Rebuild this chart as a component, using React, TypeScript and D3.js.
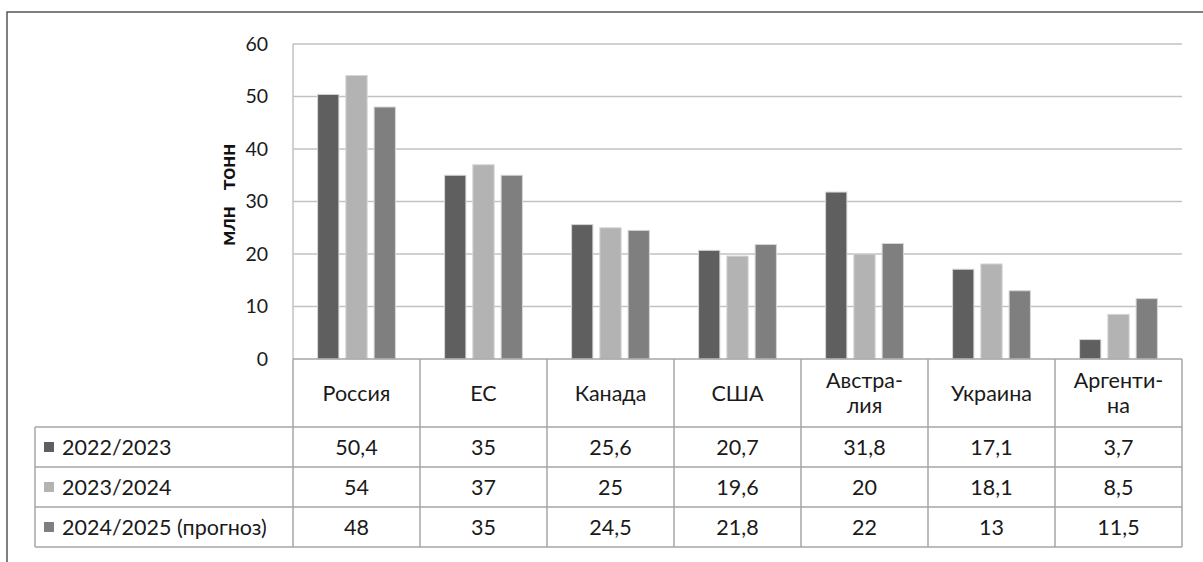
import React from 'react';
import * as d3 from 'd3';

const categories = ['Россия', 'ЕС', 'Канада', 'США', 'Австра-\nлия', 'Украина', 'Аргенти-\nна'];
const seriesNames = ['2022/2023', '2023/2024', '2024/2025 (прогноз)'];
const values2022 = [50.4, 35, 25.6, 20.7, 31.8, 17.1, 3.7];
const values2023 = [54, 37, 25, 19.6, 20, 18.1, 8.5];
const values2024 = [48, 35, 24.5, 21.8, 22, 13, 11.5];
const yTicks = [0, 10, 20, 30, 40, 50, 60];
const colors = ['#5f5f5f', '#b3b3b3', '#7f7f7f'];

const W = 1203;
const H = 562;
const FONT = 'Lato, "Open Sans", sans-serif';

const App: React.FC = () => {
  const series = [values2022, values2023, values2024];
  const plot = { left: 293, right: 1182, top: 44, bottom: 359 };
  const headerBottom = 427;
  const rowH = 40;
  const tableLeft = 35;

  const x = d3.scaleBand<number>().domain(d3.range(categories.length)).range([plot.left, plot.right]);
  const inner = d3.scaleBand<number>().domain([0, 1, 2]).range([0, x.bandwidth()]).paddingInner(0.247).paddingOuter(0.87);
  const y = d3.scaleLinear().domain([0, 60]).range([plot.bottom, plot.top]);

  const fmt = (v: number) => String(v).replace('.', ',');
  const colEdges = d3.range(categories.length + 1).map(i => (i < categories.length ? x(i)! : plot.right));

  return (
    <div style={{ position: 'absolute', left: 0, top: 0 }}>
      <svg width={W} height={H} style={{ display: 'block', background: '#fff' }}>
        {/* frame */}
        <path d={`M7,${H} V12 H${W}`} fill="none" stroke="#555" strokeWidth={1.5} />

        {/* gridlines */}
        {yTicks.slice(1).map(t => (
          <line key={t} x1={plot.left} x2={plot.right} y1={y(t)} y2={y(t)} stroke="#c2c2c2" strokeWidth={1.5} />
        ))}
        <line x1={plot.left} x2={plot.left} y1={plot.top} y2={plot.bottom} stroke="#c2c2c2" strokeWidth={1.5} />

        {/* y ticks */}
        {yTicks.map(t => (
          <text key={t} x={268} y={y(t)} dy="0.35em" textAnchor="end" fontFamily={FONT} fontSize={19.5} fill="#1a1a1a">
            {t}
          </text>
        ))}
        {/* y title, two words placed apart as in the source */}
        <text transform="translate(228,167) rotate(-90)" textAnchor="middle" dy="0.35em" fontFamily={FONT} fontSize={21} fontWeight="bold" fill="#111">
          тонн
        </text>
        <text transform="translate(228,226) rotate(-90)" textAnchor="middle" dy="0.35em" fontFamily={FONT} fontSize={21} fontWeight="bold" fill="#111">
          млн
        </text>

        {/* bars */}
        {categories.map((_, ci) =>
          series.map((vals, si) => (
            <rect
              key={`${ci}-${si}`}
              x={x(ci)! + inner(si)!}
              y={y(vals[ci])}
              width={inner.bandwidth()}
              height={y(0) - y(vals[ci])}
              fill={colors[si]}
              stroke="#d6d6d6"
              strokeWidth={1}
            />
          ))
        )}

        {/* table lines */}
        <g stroke="#a6a6a6" strokeWidth={1.5}>
          <line x1={plot.left} x2={plot.right} y1={plot.bottom} y2={plot.bottom} />
          {[0, 1, 2, 3].map(r => (
            <line key={r} x1={tableLeft} x2={plot.right} y1={headerBottom + r * rowH} y2={headerBottom + r * rowH} />
          ))}
          <line x1={tableLeft} x2={tableLeft} y1={headerBottom} y2={headerBottom + 3 * rowH} />
          {colEdges.map((cx, i) => (
            <line key={i} x1={cx} x2={cx} y1={plot.bottom} y2={headerBottom + 3 * rowH} />
          ))}
        </g>

        {/* header */}
        {categories.map((c, ci) => {
          const lines = c.split('\n');
          const cx = x(ci)! + x.bandwidth() / 2;
          const cy = (plot.bottom + headerBottom) / 2;
          return (
            <text key={ci} x={cx} textAnchor="middle" fontFamily={FONT} fontSize={21.5} fill="#1a1a1a">
              {lines.map((l, li) => (
                <tspan key={li} x={cx} y={cy + (li - (lines.length - 1) / 2) * 25} dy="0.35em">
                  {l}
                </tspan>
              ))}
            </text>
          );
        })}

        {/* rows */}
        {seriesNames.map((name, si) => {
          const cy = headerBottom + si * rowH + rowH / 2;
          return (
            <g key={si}>
              <rect x={44} y={cy - 5} width={10} height={10} fill={colors[si]} />
              <text x={62} y={cy} dy="0.35em" fontFamily={FONT} fontSize={21.5} fill="#1a1a1a">
                {name}
              </text>
              {series[si].map((v, ci) => (
                <text
                  key={ci}
                  x={x(ci)! + x.bandwidth() / 2}
                  y={cy}
                  dy="0.35em"
                  textAnchor="middle"
                  fontFamily={FONT}
                  fontSize={21.5}
                  fill="#1a1a1a"
                >
                  {fmt(v)}
                </text>
              ))}
            </g>
          );
        })}
      </svg>
    </div>
  );
};

export default App;
